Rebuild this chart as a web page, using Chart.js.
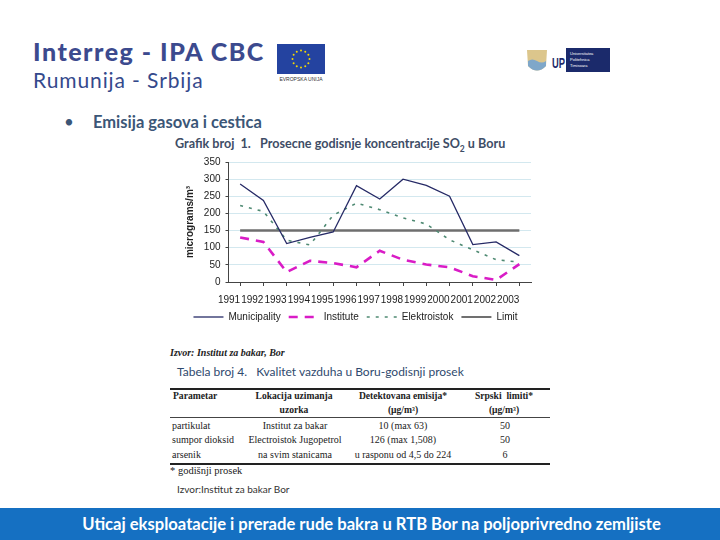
<!DOCTYPE html>
<html>
<head>
<meta charset="utf-8">
<script src="https://cdn.jsdelivr.net/npm/chart.js@4.4.1/dist/chart.umd.min.js"></script>
<style>
  html, body { margin:0; padding:0; background:#fff; }
  #slide { position:relative; width:720px; height:540px; overflow:hidden; background:#fff; font-family:Lato, "Open Sans", sans-serif; }
  .abs { position:absolute; white-space:nowrap; }
  #chartBox { position:absolute; left:180px; top:150px; width:370px; height:182px; }
  .tc { position:absolute; white-space:nowrap; font-family:"Liberation Serif", serif; font-size:10px; color:#222; line-height:13px; transform:translateX(-50%); text-align:center; }
  .tl { position:absolute; white-space:nowrap; font-family:"Liberation Serif", serif; font-size:10px; color:#222; line-height:13px; }
  .b { font-weight:bold; font-size:9.6px; line-height:14px; }
</style>
</head>
<body>
<div id="slide">
  <!-- header logo -->
  <div class="abs" style="left:33px;top:39px;line-height:1;font-family:Lato,sans-serif;font-weight:900;font-size:25px;letter-spacing:1.5px;color:#3c4a8e;">Interreg - IPA CBC</div>
  <div class="abs" style="left:33px;top:68.8px;line-height:1;font-family:Lato,sans-serif;font-weight:400;font-size:21px;letter-spacing:0.9px;color:#34498c;">Rumunija - Srbija</div>
  <svg class="abs" style="left:277px;top:44px;" width="48" height="40" id="euflag">
    <rect x="0" y="0" width="48" height="30" fill="#2443a0"/>
    <text x="24" y="37" font-size="5" font-family="Liberation Sans" fill="#333" text-anchor="middle">EVROPSKA UNIJA</text>
  </svg>
  <!-- right logos -->
  <svg class="abs" style="left:526px;top:47px;" width="86" height="28">
    <path d="M1 3 L21 3 L20 19 Q11 28 2 19 Z" fill="#dcc68c"/>
    <path d="M2 14 Q6 11 11 14 T20 14 L20 19 Q11 28 2 19 Z" fill="#7fa7c9"/>
    <text x="26" y="21" font-size="14" font-weight="bold" font-family="Liberation Sans Narrow, Liberation Sans" fill="#1c2a6b" textLength="13" lengthAdjust="spacingAndGlyphs">UP</text>
    <rect x="40" y="1" width="44" height="24" fill="#1b2a6b"/>
    <text x="44" y="8" font-size="4" fill="#fff" font-family="Liberation Sans">Universitatea</text>
    <text x="44" y="14" font-size="4" fill="#fff" font-family="Liberation Sans">Politehnica</text>
    <text x="44" y="20" font-size="4" fill="#fff" font-family="Liberation Sans">Timisoara</text>
  </svg>

  <!-- bullet -->
  <div class="abs" style="left:64px;top:111px;font-size:17px;color:#3b5677;">•</div>
  <div class="abs" style="left:93px;top:112px;font-size:16.5px;font-weight:bold;color:#3b5677;">Emisija gasova i cestica</div>
  <div class="abs" style="left:175px;top:136px;font-size:12.6px;font-weight:bold;color:#3e4d66;">Grafik broj&nbsp; 1.&nbsp;&nbsp; Prosecne godisnje koncentracije SO<sub style="font-size:8.5px;">2</sub> u Boru</div>

  <div id="chartBox"><canvas id="c" width="370" height="182"></canvas></div>

  <div class="abs" style="left:170px;top:347px;font-family:'Liberation Serif',serif;font-style:italic;font-weight:bold;font-size:10px;color:#222;">Izvor: Institut za bakar, Bor</div>
  <div class="abs" style="left:177px;top:364px;font-size:12px;color:#2f4a6e;">Tabela broj 4.&nbsp;&nbsp; Kvalitet vazduha u Boru-godisnji prosek</div>

  <div class="abs" style="left:170px;top:388px;width:380px;height:2px;background:#222;"></div>
  <div class="abs" style="left:170px;top:417px;width:380px;height:1px;background:#444;"></div>
  <div class="abs" style="left:170px;top:463px;width:380px;height:2px;background:#222;"></div>

  <div class="tl b" style="left:173px;top:389px;">Parametar</div>
  <div class="tc b" style="left:294px;top:389px;">Lokacija uzimanja<br>uzorka</div>
  <div class="tc b" style="left:403px;top:389px;">Detektovana emisija*<br>(μg/m³)</div>
  <div class="tc b" style="left:504px;top:389px;">Srpski&nbsp; limiti*<br>(μg/m³)</div>

  <div class="tl" style="left:172px;top:419px;">partikulat</div>
  <div class="tc" style="left:295px;top:419px;">Institut za bakar</div>
  <div class="tc" style="left:403px;top:419px;">10 (max 63)</div>
  <div class="tc" style="left:505px;top:419px;">50</div>

  <div class="tl" style="left:172px;top:433px;">sumpor dioksid</div>
  <div class="tc" style="left:295px;top:433px;">Electroistok Jugopetrol</div>
  <div class="tc" style="left:403px;top:433px;">126 (max 1,508)</div>
  <div class="tc" style="left:505px;top:433px;">50</div>

  <div class="tl" style="left:172px;top:448px;">arsenik</div>
  <div class="tc" style="left:295px;top:448px;">na svim stanicama</div>
  <div class="tc" style="left:403px;top:448px;">u rasponu od 4,5 do 224</div>
  <div class="tc" style="left:505px;top:448px;">6</div>

  <div class="abs" style="left:170px;top:465px;font-family:'Liberation Serif',serif;font-size:10.5px;color:#222;">* godišnji prosek</div>
  <div class="abs" style="left:177px;top:483px;font-size:10px;color:#333;">Izvor:Institut za bakar Bor</div>

  <div class="abs" style="left:0;top:508px;width:720px;height:32px;background:#1570c2;"></div>
  <div class="abs" style="left:0;top:514px;width:743px;text-align:center;font-size:16.6px;font-weight:bold;color:#fff;">Uticaj eksploatacije i prerade rude bakra u RTB Bor na poljoprivredno zemljiste</div>
</div>

<script>
// ---- data ----
const years = ['1991','1992','1993','1994','1995','1996','1997','1998','1999','2000','2001','2002','2003'];
const municipality = [286, 238, 112, 130, 146, 281, 242, 300, 282, 250, 109, 117, 77];
const institute    = [130, 117, 29, 62, 55, 43, 91, 65, 51, 43, 17, 6, 52];
const elektroistok = [223, 206, 122, 108, 195, 230, 211, 187, 169, 123, 94, 65, 58];
const limit        = [150, 150, 150, 150, 150, 150, 150, 150, 150, 150, 150, 150, 150];
const yTicks = [0, 50, 100, 150, 200, 250, 300, 350];

// EU flag stars (decoration)
(function(){
  const svg = document.getElementById('euflag');
  for (let i = 0; i < 12; i++) {
    const a = i * Math.PI / 6;
    const c = document.createElementNS('http://www.w3.org/2000/svg','circle');
    c.setAttribute('cx', 24 + 8.5 * Math.cos(a));
    c.setAttribute('cy', 15 + 8.5 * Math.sin(a));
    c.setAttribute('r', 1);
    c.setAttribute('fill', '#f5d800');
    svg.appendChild(c);
  }
})();

const fontFam = '"Liberation Sans", Arial, sans-serif';
const baseGen = Chart.defaults.plugins.legend.labels.generateLabels;
new Chart(document.getElementById('c'), {
  type: 'line',
  data: {
    labels: years,
    datasets: [
      { label: 'Municipality', data: municipality, borderColor: '#262a66', borderWidth: 1.3, pointRadius: 0, tension: 0, fill: false },
      { label: 'Institute', data: institute, borderColor: '#d91cc6', borderWidth: 2.6, borderDash: [9, 7], pointRadius: 0, tension: 0, fill: false },
      { label: 'Elektroistok', data: elektroistok, borderColor: '#4f8a73', borderWidth: 1.6, borderDash: [3, 6], pointRadius: 0, tension: 0, fill: false },
      { label: 'Limit', data: limit, borderColor: '#6e6e6e', borderWidth: 2.6, pointRadius: 0, tension: 0, fill: false }
    ]
  },
  options: {
    responsive: false,
    animation: false,
    devicePixelRatio: 1,
    layout: { padding: { left: 0, right: 19, top: 12, bottom: 0 } },
    plugins: {
      legend: {
        position: 'bottom',
        maxWidth: 370,
        labels: {
          usePointStyle: true,
          pointStyle: 'line',
          pointStyleWidth: 30,
          padding: 8,
          color: '#222',
          font: { family: fontFam, size: 10 },
          generateLabels: (chart) => baseGen(chart).map((it, i) => {
            const ds = chart.data.datasets[i];
            it.lineDash = ds.borderDash || [];
            it.lineWidth = i === 3 ? 1.3 : ds.borderWidth;
            it.strokeStyle = i === 3 ? '#222' : ds.borderColor;
            return it;
          })
        }
      },
      tooltip: { enabled: false }
    },
    scales: {
      x: {
        offset: true,
        grid: { display: true, drawOnChartArea: false, drawTicks: true, tickLength: 4, color: '#444' },
        border: { color: '#444', width: 1 },
        ticks: { autoSkip: false, maxRotation: 0, minRotation: 0, align: 'end', padding: 8, color: '#222', font: { family: fontFam, size: 10 } },
        afterFit: (s) => { s.height = 22; }
      },
      y: {
        min: 0, max: 350,
        afterBuildTicks: (s) => { s.ticks = yTicks.map(v => ({ value: v })); },
        grid: { color: '#d3e8ef', tickColor: '#444', tickLength: 3 },
        border: { color: '#444', width: 1 },
        ticks: { autoSkip: false, padding: 5, color: '#222', font: { family: fontFam, size: 10 } },
        title: { display: true, text: 'micrograms/m³', color: '#222', padding: { top: 4, bottom: 2 }, font: { family: fontFam, size: 10, weight: 'bold' } },
        afterFit: (s) => { s.width = 48.5; }
      }
    }
  }
});
</script>
</body>
</html>
